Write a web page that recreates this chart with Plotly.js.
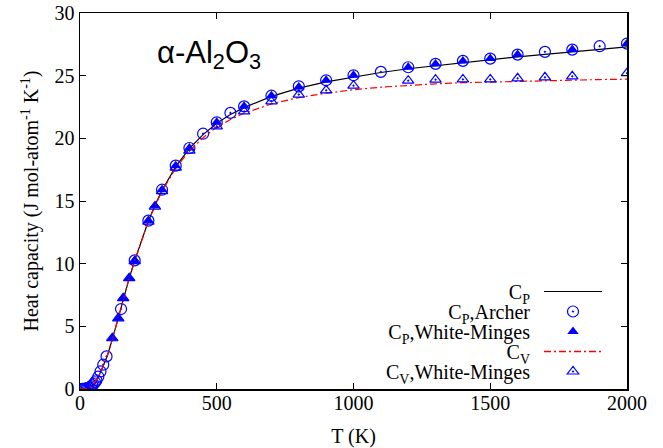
<!DOCTYPE html>
<html><head><meta charset="utf-8">
<script src="https://cdn.plot.ly/plotly-3.0.1.min.js"></script>
<style>html,body{margin:0;padding:0;background:#fff}#chart{width:663px;height:448px}</style>
</head><body><div id="chart"></div>
<script>
// Calculated Cp curve (J mol-atom^-1 K^-1)
const cpCurveT = [0,10,20,30,40,50,60,70,80,90,100,120,140,160,180,200,225,250,275,300,350,400,450,500,550,600,700,800,900,1000,1100,1200,1300,1400,1500,1600,1700,1800,1900,2000];
const cpCurve  = [0,0.004,0.025,0.08,0.2,0.4,0.7,1.1,1.6,2.1,2.65,4.1,5.7,7.3,8.85,10.25,11.9,13.4,14.7,15.85,17.75,19.2,20.3,21.2,21.9,22.45,23.35,24.0,24.5,24.9,25.25,25.55,25.8,26.05,26.3,26.5,26.7,26.9,27.1,27.3];
// Calculated Cv curve
const cvCurveT = [0,10,20,30,40,50,60,70,80,90,100,120,140,160,180,200,225,250,275,300,350,400,450,500,550,600,700,800,900,1000,1100,1200,1300,1400,1500,1600,1700,1800,1900,2000];
const cvCurve  = [0,0.004,0.025,0.08,0.2,0.4,0.7,1.1,1.6,2.1,2.65,4.1,5.7,7.3,8.85,10.23,11.87,13.38,14.65,15.78,17.62,19.0,20.05,20.9,21.5,22.0,22.75,23.25,23.6,23.88,24.08,24.23,24.35,24.44,24.5,24.56,24.61,24.65,24.69,24.72];
// Cp, Archer (experimental)
const archerT  = [5,10,15,20,25,30,35,40,45,50,55,60,67,75,85,97,150,200,250,300,350,400,450,500,550,600,700,800,900,1000,1100,1200,1300,1400,1500,1600,1700,1800,1900,2000];
const archerCp = [0.001,0.004,0.01,0.025,0.045,0.08,0.13,0.2,0.29,0.4,0.54,0.7,0.98,1.4,1.94,2.6,6.38,10.26,13.43,15.9,17.82,19.23,20.37,21.28,22.03,22.55,23.4,24.15,24.63,25.03,25.3,25.67,25.94,26.18,26.36,26.68,26.9,27.08,27.35,27.56];
// Cp, White-Minges
const wmCpT = [118,140,158,180,200,250,274,300,350,400,500,600,700,800,900,1000,1200,1300,1400,1500,1600,1800,2000];
const wmCp  = [4.05,5.65,7.26,8.86,10.24,13.43,14.63,15.9,17.82,19.23,21.28,22.55,23.4,24.1,24.63,25.03,25.67,25.94,26.18,26.36,26.68,27.08,27.56];
// Cv, White-Minges
const wmCvT = [118,140,158,180,200,250,274,300,350,400,500,600,700,800,900,1000,1200,1300,1400,1500,1600,1700,1800,2000];
const wmCv  = [4.05,5.64,7.25,8.84,10.2,13.36,14.55,15.78,17.66,19.02,20.96,22.15,22.95,23.49,23.83,24.2,24.6,24.68,24.7,24.7,24.79,24.87,24.95,25.2];

const names = ['C<sub>P</sub>','C<sub>P</sub>,Archer','C<sub>P</sub>,White-Minges','C<sub>V</sub>','C<sub>V</sub>,White-Minges'];
const blue = '#0000ff';
const red = '#ff0000';
const serif = 'Liberation Serif, Times New Roman, serif';

const traces = [
  {x:cpCurveT, y:cpCurve, mode:'lines', name:names[0], line:{color:'#000000', width:1.2}},
  {x:archerT, y:archerCp, mode:'markers', name:names[1], marker:{symbol:'circle-open-dot', size:11, color:blue, line:{width:1.2, color:blue}}},
  {x:wmCpT, y:wmCp, mode:'markers', name:names[2], marker:{symbol:'triangle-up', size:10, color:blue, line:{width:0}}},
  {x:cvCurveT, y:cvCurve, mode:'lines', name:names[3], line:{color:red, width:1.2, dash:'7px,3px,2px,3px'}},
  {x:wmCvT, y:wmCv, mode:'markers', name:names[4], marker:{symbol:'triangle-up-open-dot', size:10, color:blue, line:{width:1.2, color:blue}}}
];

const axisCommon = {showline:true, linecolor:'#000', linewidth:1.5, mirror:'allticks', ticks:'inside', ticklen:6, tickwidth:1, tickcolor:'#000', showgrid:false, zeroline:false, tickfont:{family:serif, size:20, color:'#000'}};

const layout = {
  width:663, height:448,
  margin:{l:80, r:36, t:13, b:59},
  paper_bgcolor:'#fff', plot_bgcolor:'#fff',
  font:{family:serif, size:20, color:'#000'},
  title:{text:'α-Al<sub>2</sub>O<sub>3</sub>', x:157/663, y:1-52/448, xref:'container', yref:'container', xanchor:'left', yanchor:'middle', font:{family:'Liberation Sans, Arial, sans-serif', size:31, color:'#000'}},
  xaxis:Object.assign({}, axisCommon, {range:[0,2000], dtick:500, tick0:0, title:{text:'T (K)', font:{family:serif, size:20}, standoff:14}}),
  yaxis:Object.assign({}, axisCommon, {range:[0,30], dtick:5, tick0:0, title:{text:'Heat capacity (J mol-atom<sup>-1</sup> K<sup>-1</sup>)', font:{family:serif, size:20}, standoff:10}}),
  showlegend:true,
  legend:{x:0.6, y:0.3, xanchor:'left', yanchor:'top', bgcolor:'rgba(0,0,0,0)', borderwidth:0, font:{family:serif, size:20, color:'#000'}, traceorder:'normal'}
};

const gd = document.getElementById('chart');
Plotly.newPlot(gd, traces, layout, {staticPlot:true, displayModeBar:false}).then(()=>{
  // x tick labels sit slightly closer to the axis in the reference
  gd.querySelectorAll('g.xtick text').forEach(t=>{
    const y = parseFloat(t.getAttribute('y'));
    if(!isNaN(y)) t.setAttribute('y', y - 5);
  });
  // gnuplot-style key: right-aligned text with the sample to its right
  const lg = gd.querySelector('g.legend');
  if(!lg) return;
  const m = /translate\(\s*([-\d.e]+)[\s,]+([-\d.e]+)\s*\)/.exec(lg.getAttribute('transform')||'');
  const lx = m ? +m[1] : 0, ly = m ? +m[2] : 0;
  lg.querySelectorAll('[clip-path]').forEach(e=>e.removeAttribute('clip-path'));
  lg.querySelectorAll('g.traces').forEach((g,i)=>{
    g.setAttribute('transform', 'translate(' + (553-lx) + ',' + (291.5 + i*20 - ly) + ')');
    const t = g.querySelector('text.legendtext');
    if(t){ t.setAttribute('x', -23); t.style.textAnchor = 'end'; }
    g.querySelectorAll('path.js-line').forEach(p=>{
      p.setAttribute('d','M-9,0h58');
      if(i === 3){ p.style.stroke = red; p.style.strokeWidth = '1.3px'; }
    });
  });
});
</script>
</body></html>
